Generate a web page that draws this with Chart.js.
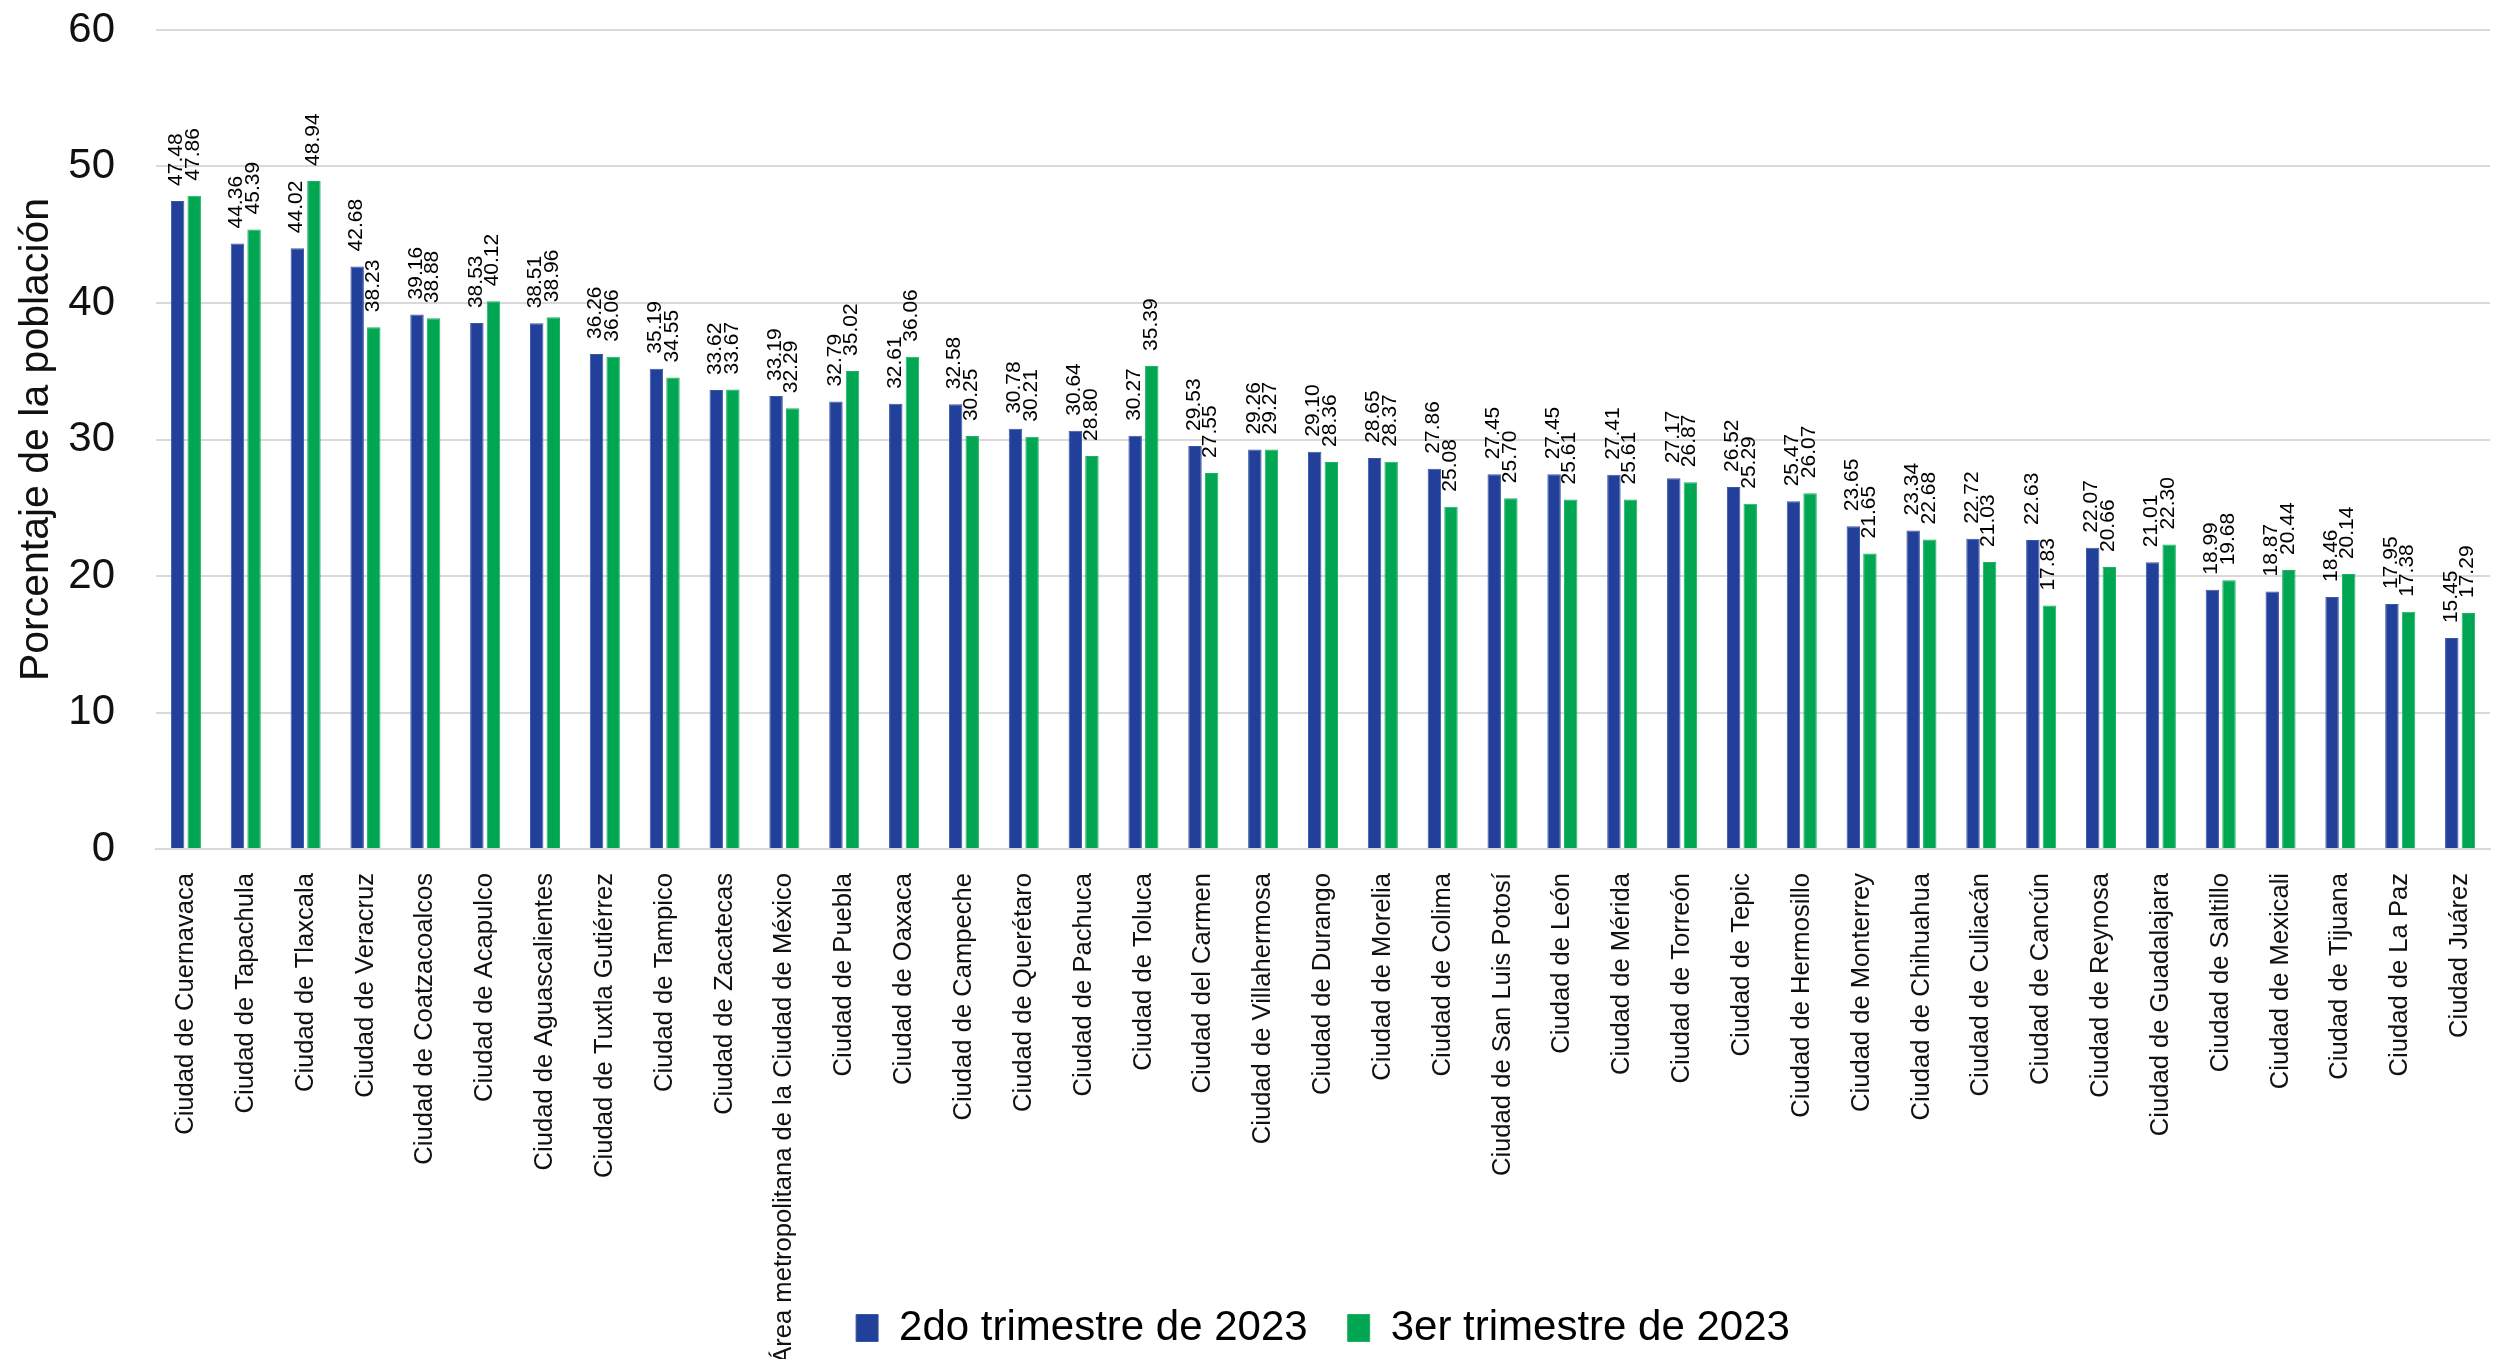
<!DOCTYPE html>
<html>
<head>
<meta charset="utf-8">
<script src="https://cdn.jsdelivr.net/npm/chart.js@4/dist/chart.umd.min.js"></script>
<style>
  body { margin: 0; background: #fff; }
  #wrap { width: 2506px; height: 1359px; }
</style>
</head>
<body>
<div id="wrap"><canvas id="myChart"></canvas></div>
<script>
const ciudades = ['Ciudad de Cuernavaca', 'Ciudad de Tapachula', 'Ciudad de Tlaxcala', 'Ciudad de Veracruz',
  'Ciudad de Coatzacoalcos', 'Ciudad de Acapulco', 'Ciudad de Aguascalientes', 'Ciudad de Tuxtla Gutiérrez',
  'Ciudad de Tampico', 'Ciudad de Zacatecas', 'Área metropolitana de la Ciudad de México', 'Ciudad de Puebla',
  'Ciudad de Oaxaca', 'Ciudad de Campeche', 'Ciudad de Querétaro', 'Ciudad de Pachuca', 'Ciudad de Toluca',
  'Ciudad del Carmen', 'Ciudad de Villahermosa', 'Ciudad de Durango', 'Ciudad de Morelia', 'Ciudad de Colima',
  'Ciudad de San Luis Potosí', 'Ciudad de León', 'Ciudad de Mérida', 'Ciudad de Torreón', 'Ciudad de Tepic',
  'Ciudad de Hermosillo', 'Ciudad de Monterrey', 'Ciudad de Chihuahua', 'Ciudad de Culiacán', 'Ciudad de Cancún',
  'Ciudad de Reynosa', 'Ciudad de Guadalajara', 'Ciudad de Saltillo', 'Ciudad de Mexicali', 'Ciudad de Tijuana',
  'Ciudad de La Paz', 'Ciudad Juárez'];

const trimestre2 = [47.48, 44.36, 44.02, 42.68, 39.16, 38.53, 38.51, 36.26, 35.19, 33.62, 33.19, 32.79, 32.61,
  32.58, 30.78, 30.64, 30.27, 29.53, 29.26, 29.10, 28.65, 27.86, 27.45, 27.45, 27.41, 27.17, 26.52, 25.47,
  23.65, 23.34, 22.72, 22.63, 22.07, 21.01, 18.99, 18.87, 18.46, 17.95, 15.45];

const trimestre3 = [47.86, 45.39, 48.94, 38.23, 38.88, 40.12, 38.96, 36.06, 34.55, 33.67, 32.29, 35.02, 36.06,
  30.25, 30.21, 28.80, 35.39, 27.55, 29.27, 28.36, 28.37, 25.08, 25.70, 25.61, 25.61, 26.87, 25.29, 26.07,
  21.65, 22.68, 21.03, 17.83, 20.66, 22.30, 19.68, 20.44, 20.14, 17.38, 17.29];

const series = ['2do trimestre de 2023', '3er trimestre de 2023'];
const yTicks = [0, 10, 20, 30, 40, 50, 60];

const fontFam = '"Liberation Sans", Arial, sans-serif';

// etiquetas de valor giradas sobre cada barra
const valueLabels = {
  id: 'valueLabels',
  afterDatasetsDraw(chart) {
    const ctx = chart.ctx;
    ctx.save();
    ctx.font = '21px ' + fontFam;
    ctx.fillStyle = '#000';
    ctx.textAlign = 'left';
    ctx.textBaseline = 'middle';
    chart.data.datasets.forEach((ds, i) => {
      chart.getDatasetMeta(i).data.forEach((bar, j) => {
        ctx.save();
        ctx.translate(bar.x - 1, bar.y - 15);
        ctx.rotate(-Math.PI / 2);
        ctx.fillText(ds.data[j].toFixed(2), 0, 0);
        ctx.restore();
      });
    });
    ctx.restore();
  }
};

// deja que las etiquetas largas del eje x bajen hasta el borde del lienzo
const longLabels = {
  id: 'longLabels',
  afterLayout(chart) {
    chart.scales.x.bottom = chart.height;
  }
};

const ctx = document.getElementById('myChart');

new Chart(ctx, {
  type: 'bar',
  data: {
    labels: ciudades,
    datasets: [{
      label: series[0],
      data: trimestre2,
      backgroundColor: '#22409a',
      borderColor: '#3b56a8',
      borderWidth: 1,
      categoryPercentage: 0.555,
      barPercentage: 0.81
    }, {
      label: series[1],
      data: trimestre3,
      backgroundColor: '#00a651',
      borderColor: '#1fb264',
      borderWidth: 1,
      categoryPercentage: 0.555,
      barPercentage: 0.81
    }]
  },
  options: {
    responsive: true,
    maintainAspectRatio: false,
    animation: false,
    layout: { padding: { top: 30, right: 16, left: 0, bottom: 0 } },
    plugins: {
      tooltip: { enabled: false },
      legend: {
        position: 'bottom',
        fullSize: false,
        labels: {
          boxWidth: 22,
          boxHeight: 27,
          padding: 40,
          color: '#000',
          font: { family: fontFam, size: 42 }
        }
      }
    },
    scales: {
      x: {
        grid: { display: false },
        border: { color: '#d9d9d9', width: 2 },
        ticks: {
          autoSkip: false,
          maxRotation: 90,
          minRotation: 90,
          padding: 16,
          color: '#111',
          font: { family: fontFam, size: 25.6 }
        },
        afterFit(scale) {
          scale.height = 418;
          scale.paddingLeft = 0;
          scale.paddingRight = 0;
        }
      },
      y: {
        min: 0,
        max: 60,
        afterBuildTicks(scale) { scale.ticks = yTicks.map(v => ({ value: v })); },
        grid: { color: '#d9d9d9', lineWidth: 2, drawTicks: false },
        border: { display: false },
        ticks: {
          padding: 41,
          color: '#111',
          font: { family: fontFam, size: 42 }
        },
        title: {
          display: true,
          text: 'Porcentaje de la población',
          color: '#111',
          padding: { top: 12, bottom: 0 },
          font: { family: fontFam, size: 41 }
        },
        afterFit(scale) {
          scale.width = 156;
          scale.paddingTop = 0;
          scale.paddingBottom = 0;
        }
      }
    }
  },
  plugins: [valueLabels, longLabels]
});
</script>
</body>
</html>
